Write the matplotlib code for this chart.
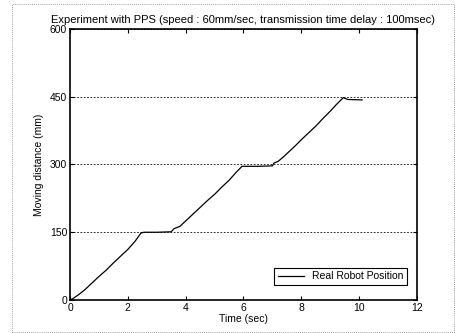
import numpy as np
import matplotlib.pyplot as plt
from matplotlib.patches import Rectangle

plt.rcParams['font.family'] = ['Liberation Sans', 'DejaVu Sans']

# real robot position
time_s = [0.0, 0.1, 0.3, 0.5, 0.75, 1.0, 1.25, 1.5, 1.75, 2.0, 2.25, 2.45,
          2.55, 3.0, 3.5, 3.6, 3.8, 4.0, 4.25, 4.5, 4.75, 5.0, 5.25, 5.5,
          5.75, 5.95, 6.5, 7.0, 7.05, 7.2, 7.4, 7.6, 7.8, 8.0, 8.25, 8.5,
          8.75, 9.0, 9.2, 9.45, 9.6, 10.1]
pos_mm = [0, 3, 12, 22, 37, 52, 66, 82, 97, 112, 130, 148,
          150, 150, 151, 158, 163, 175, 190, 205, 220, 234, 250, 265,
          283, 296, 296, 297, 303, 307, 318, 330, 342, 355, 370, 385,
          402, 418, 432, 448, 444, 443]

x_ticks = [0, 2, 4, 6, 8, 10, 12]
y_ticks = [0, 150, 300, 450, 600]

W, H = 456, 333
fig = plt.figure(figsize=(W / 100, H / 100), dpi=100)
ax = fig.add_axes([70 / W, 1 - 300 / H, 347 / W, 271 / H])

ax.plot(time_s, pos_mm, color='black', lw=0.9, label='Real Robot Position')

ax.set_xlim(0, 12)
ax.set_ylim(0, 600)
ax.set_xticks(x_ticks)
ax.set_yticks(y_ticks)
ax.tick_params(direction='in', top=True, right=True, length=3, labelsize=7.5, pad=2)
ax.yaxis.grid(True, color='black', ls=(0, (2, 2)), lw=0.6)
for s in ax.spines.values():
    s.set_linewidth(1.2)

ax.set_title('Experiment with PPS (speed : 60mm/sec, transmission time delay : 100msec)',
             fontsize=8, pad=4)
ax.set_xlabel('Time (sec)', fontsize=7.5, labelpad=1)
ax.set_ylabel('Moving distance (mm)', fontsize=7.5, labelpad=4)

leg = ax.legend(loc='lower right', fontsize=7.5, fancybox=False, framealpha=1,
                edgecolor='black', borderaxespad=0, handlelength=2.5,
                borderpad=0.35, bbox_to_anchor=(0.971, 0.055))
leg.get_frame().set_linewidth(0.8)

# dotted border of the scanned figure
fig.patches.append(Rectangle((12 / W, 1 / H), 442 / W, 328 / H, transform=fig.transFigure,
                             fill=False, ls=(0, (1, 1.5)), lw=0.6, edgecolor='gray'))

fig.savefig('out.png', dpi=100)
